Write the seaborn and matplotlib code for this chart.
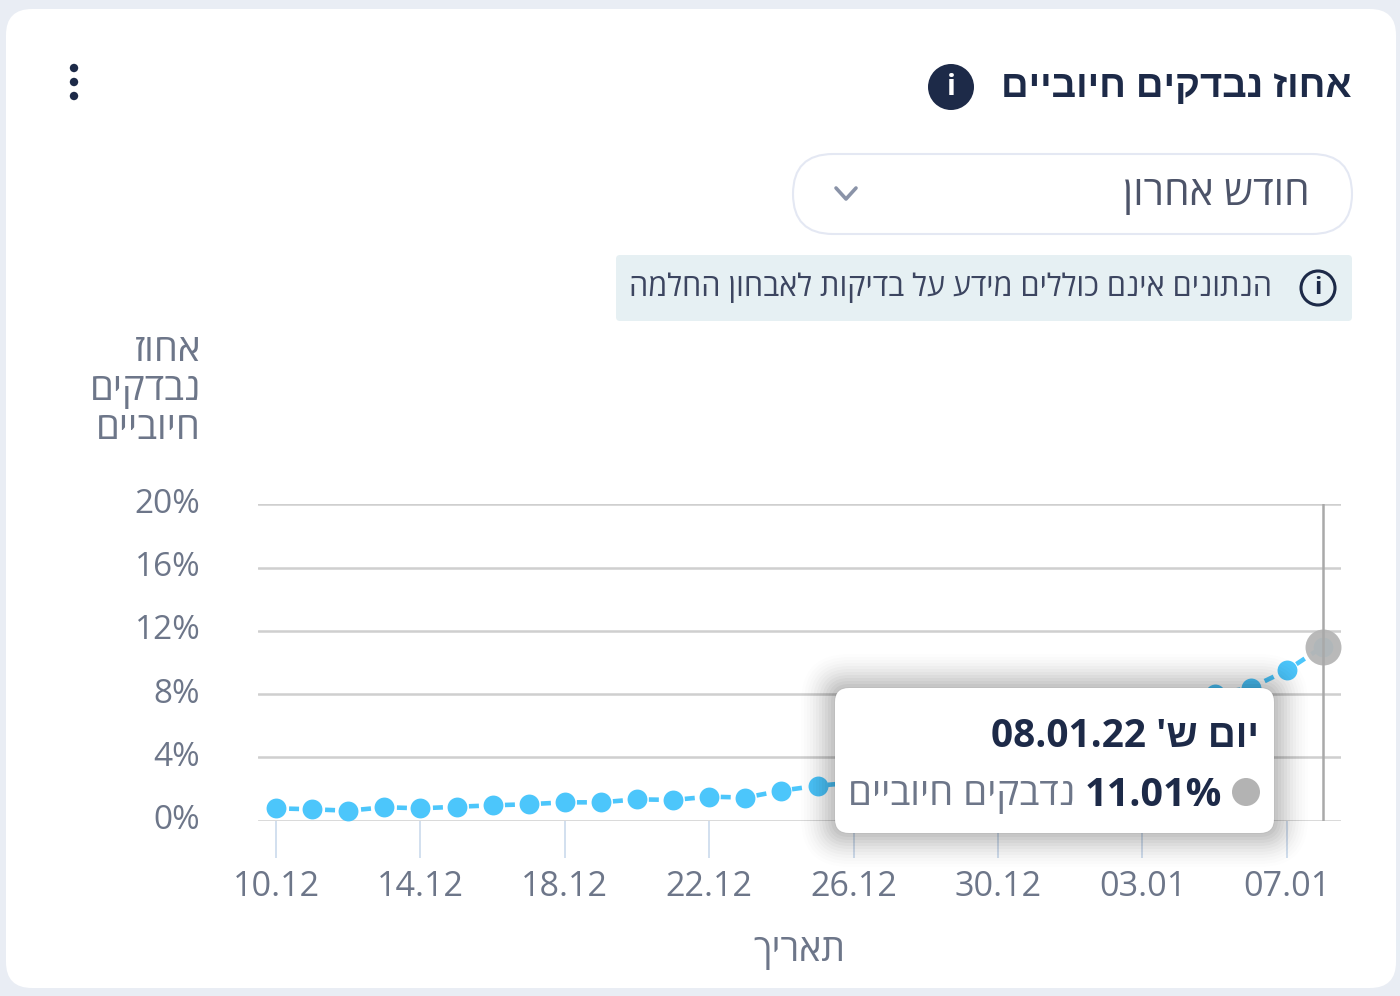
import matplotlib
matplotlib.use("Agg")
import matplotlib.pyplot as plt
from matplotlib.patches import FancyBboxPatch, Circle
import pandas as pd
import seaborn as sns

# Daily share of positive tests, 10.12.21 - 08.01.22
dates = ["10.12", "11.12", "12.12", "13.12", "14.12", "15.12", "16.12", "17.12", "18.12", "19.12",
         "20.12", "21.12", "22.12", "23.12", "24.12", "25.12", "26.12", "27.12", "28.12", "29.12",
         "30.12", "31.12", "01.01", "02.01", "03.01", "04.01", "05.01", "06.01", "07.01", "08.01"]
positive_pct = [0.77, 0.71, 0.62, 0.84, 0.77, 0.87, 0.96, 1.03, 1.15, 1.15,
                1.34, 1.30, 1.51, 1.45, 1.89, 2.20, 2.40, 2.70, 3.10, 3.60,
                4.20, 4.80, 5.50, 6.20, 6.90, 7.50, 8.00, 8.40, 9.50, 11.01]
tick_dates = ["10.12", "14.12", "18.12", "22.12", "26.12", "30.12", "03.01", "07.01"]
y_ticks = [0, 4, 8, 12, 16, 20]

TITLE = "אחוז נבדקים חיוביים"
PERIOD = "חודש אחרון"
NOTICE = "הנתונים אינם כוללים מידע על בדיקות לאבחון החלמה"
Y_TITLE = ["אחוז", "נבדקים", "חיוביים"]
X_TITLE = "תאריך"
TIP_DAY = "יום ש'"
TIP_DATE = "08.01.22"
TIP_SERIES = "נדבקים חיוביים"

NAVY = "#1d2a48"
GREY_TEXT = "#6d7689"
BLUE = "#4cc6fb"
GREY_DOT = "#b6b6b6"

sns.set_theme(style="white")
plt.rcParams["font.family"] = ["Open Sans", "Liberation Sans", "DejaVu Sans"]


def rtl(text):
    """matplotlib lays glyphs left to right, so Hebrew runs are given in visual order."""
    return text[::-1]


W, H = 1400, 996
fig = plt.figure(figsize=(W / 100, H / 100), dpi=100, facecolor="#e9edf4")


def pixel_axes(zorder):
    a = fig.add_axes([0, 0, 1, 1], zorder=zorder)
    a.set_xlim(0, W)
    a.set_ylim(H, 0)
    a.axis("off")
    a.patch.set_alpha(0)
    return a


def rounded(a, x0, y0, x1, y1, r, **kw):
    p = FancyBboxPatch((x0 + r, y0 + r), x1 - x0 - 2 * r, y1 - y0 - 2 * r,
                       boxstyle=f"round,pad={r},rounding_size={r}", **kw)
    a.add_patch(p)
    return p


# Card, header and controls
bg = pixel_axes(0)
rounded(bg, 6, 9, 1396, 988, 26, fc="white", ec="none")
for y in (68, 82, 96):
    bg.add_patch(Circle((74, y), 4.2, fc=NAVY, ec="none"))
bg.text(1352, 87, rtl(TITLE), ha="right", va="center", fontsize=27.5, fontweight="bold", color=NAVY)
bg.add_patch(Circle((951, 87), 23, fc=NAVY, ec="none"))
bg.text(951, 87, "i", ha="center", va="center", fontsize=21, fontweight="bold", color="white")

rounded(bg, 793, 154, 1352, 234, 40, fc="white", ec="#e4e8f3", lw=1.5)
bg.text(1310, 195, rtl(PERIOD), ha="right", va="center", fontsize=29.3, color="#4d5469")
bg.plot([836, 846, 856], [188, 199, 188], color="#8a93a8", lw=2.6, solid_capstyle="round")

rounded(bg, 616, 255, 1352, 321, 4, fc="#e6f0f3", ec="none")
bg.text(1272, 288, rtl(NOTICE), ha="right", va="center", fontsize=22.1, color="#3c4560")
bg.add_patch(Circle((1318, 288), 17, fc="none", ec=NAVY, lw=2.2))
bg.text(1318, 288, "i", ha="center", va="center", fontsize=17, fontweight="bold", color=NAVY)

# Chart area: one band per day, gridlines every 4 %
left, right, top, bottom = 258, 1341, 504.5, 820.5
ax = fig.add_axes([left / W, 1 - bottom / H, (right - left) / W, (bottom - top) / H], zorder=1)
ax.patch.set_alpha(0)
frame = pd.DataFrame({"day": range(len(dates)), "date": dates, "positive": positive_pct})

ax.axvline(frame["day"].iloc[-1], color="#a9a9a9", lw=1.8, zorder=4)
sns.lineplot(data=frame, x="day", y="positive", ax=ax, color=BLUE, lw=3.3,
             linestyle=(1.09, (2.18, 1.75)), marker="o", markersize=14.3, markeredgewidth=0,
             zorder=3, clip_on=False)
sns.scatterplot(data=frame.tail(1), x="day", y="positive", ax=ax, color=GREY_DOT, s=670,
                linewidth=0, zorder=3.5, alpha=0.95, clip_on=False)

ax.set_xlim(-0.5, len(dates) - 0.5)
ax.set_ylim(0, 20)
ax.set_yticks(y_ticks, [f"{v}%" for v in y_ticks])
ax.set_xticks([dates.index(d) for d in tick_dates], tick_dates)
ax.grid(axis="y", color="#cfcfcf", lw=1.8)
ax.grid(axis="x", visible=False)
ax.set_axisbelow(True)
sns.despine(ax=ax, left=True, bottom=True, right=True, top=True)
ax.tick_params(axis="y", length=0, pad=41.5, labelsize=24, labelcolor=GREY_TEXT)
ax.tick_params(axis="x", length=26.5, width=1.2, color="#cbdaec", pad=9,
               labelsize=24.6, labelcolor=GREY_TEXT, bottom=True)
for lab in ax.get_yticklabels():
    lab.set_verticalalignment("center")

ax.set_xlabel(rtl(X_TITLE), fontsize=27, color=GREY_TEXT)
ax.xaxis.set_label_coords((799 - left) / (right - left), (bottom - 951) / (bottom - top), ax.transAxes)
ax.xaxis.label.set_verticalalignment("center")
ax.set_ylabel("\n".join(rtl(s) for s in Y_TITLE), fontsize=27.5, color=GREY_TEXT,
              rotation=0, ha="right", va="center", linespacing=1.03)
ax.yaxis.set_label_coords((201 - left) / (right - left), (bottom - 390) / (bottom - top), ax.transAxes)

# Tooltip for the highlighted day
tip = pixel_axes(2)
x0, y0, x1, y1 = 835, 688, 1274, 833
for grow, alpha in zip(range(34, 0, -3), [0.008, 0.010, 0.012, 0.015, 0.018, 0.021,
                                          0.024, 0.027, 0.030, 0.033, 0.036, 0.040]):
    rounded(tip, x0 - grow, y0 - grow, x1 + grow, y1 + grow, 14 + grow, fc="black", ec="none", alpha=alpha)
rounded(tip, x0, y0, x1, y1, 14, fc="white", ec="none")
tip.text(1259, 736, f"{TIP_DATE} {rtl(TIP_DAY)}", ha="right", va="center",
         fontsize=27.9, fontweight="bold", color=NAVY)
tip.add_patch(Circle((1246, 792), 14, fc="#b3b3b3", ec="none"))
tip.text(1222, 795, f"{positive_pct[-1]:.2f}%", ha="right", va="center",
         fontsize=28.5, fontweight="bold", color=NAVY)
tip.text(1075, 795, rtl(TIP_SERIES), ha="right", va="center", fontsize=27.6, color=GREY_TEXT)

fig.savefig("out.png", dpi=100, facecolor=fig.get_facecolor())
